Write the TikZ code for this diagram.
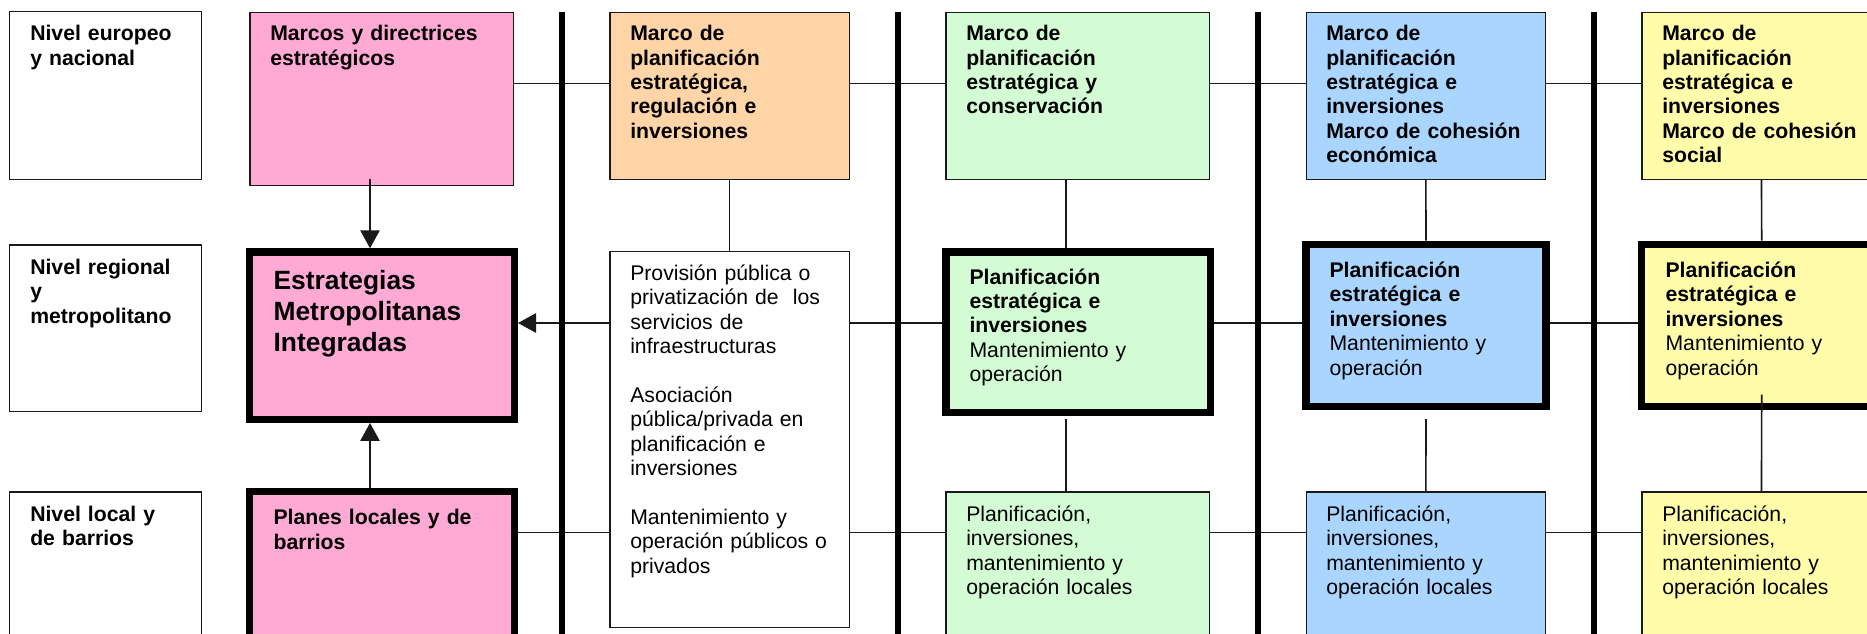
\documentclass[tikz,border=0pt]{standalone}
\usepackage{fontspec}
\setmainfont{Liberation Sans}
\usetikzlibrary{arrows.meta,calc}
\definecolor{pinkf}{RGB}{255,170,212}
\definecolor{orangef}{RGB}{255,213,168}
\definecolor{greenf}{RGB}{212,252,212}
\definecolor{bluef}{RGB}{170,213,255}
\definecolor{yellowf}{RGB}{255,252,170}
\definecolor{edgec}{RGB}{25,25,25}
\begin{document}
\begin{tikzpicture}[x=0.75pt,y=-0.75pt,
  thinbox/.style={draw=edgec, line width=1.1pt, anchor=north west, inner sep=0pt},
  thickbox/.style={draw=black, line width=5.6pt, anchor=north west, inner sep=0pt},
  txt/.style={anchor=base west, inner sep=0pt, align=left, text width=240pt, font=\fontsize{15.9pt}{18.3pt}\selectfont},
  boldtxt/.style={txt, font=\fontsize{15.9pt}{18.3pt}\selectfont\bfseries},
  bigtxt/.style={txt, font=\fontsize{19.8pt}{23.6pt}\selectfont\bfseries},
  conn/.style={draw=edgec, line width=1.2pt},
  arr/.style={conn, -{Triangle[length=13.5pt,width=14.5pt]}},
  sep/.style={draw=black, line width=4.1pt}
]
\useasboundingbox (0,0) rectangle (1867,633);
\clip (0,0) rectangle (1867,633);
\fill[white] (0,0) rectangle (1867,633);

% level labels
\node[thinbox, minimum width=143.65pt, minimum height=125.65pt] (L1) at (9,11) {};
\node[thinbox, minimum width=143.65pt, minimum height=124.9pt] (L2) at (9,244.3) {};
\node[thinbox, minimum width=143.65pt, minimum height=125pt] (L3) at (9,491.3) {};

% pink column
\node[thinbox, fill=pinkf, minimum width=197.4pt, minimum height=129.6pt] (P1) at (249.3,11.7) {};
\node[thickbox, fill=pinkf, minimum width=198.4pt, minimum height=125.4pt] (P2) at (246,248.3) {};
\node[thickbox, fill=pinkf, minimum width=198.4pt, minimum height=123.4pt] (P3) at (246,488) {};

% orange / white column
\node[thinbox, fill=orangef, minimum width=179.4pt, minimum height=125.1pt] (O) at (609.3,11.7) {};
\node[thinbox, fill=white, minimum width=179.4pt, minimum height=281.9pt] (W) at (609.3,250.7) {};

% green column
\node[thinbox, fill=greenf, minimum width=197.4pt, minimum height=125.1pt] (G1) at (945.3,11.7) {};
\node[thickbox, fill=greenf, minimum width=198.2pt, minimum height=120.4pt] (G2) at (942.3,248.3) {};
\node[thinbox, fill=greenf, minimum width=197.4pt, minimum height=125pt] (G3) at (945.3,491.3) {};

% blue column
\node[thinbox, fill=bluef, minimum width=179.1pt, minimum height=125.1pt] (B1) at (1305.7,11.7) {};
\node[thickbox, fill=bluef, minimum width=180pt, minimum height=121.6pt] (B2) at (1302.3,240.7) {};
\node[thinbox, fill=bluef, minimum width=179.1pt, minimum height=125pt] (B3) at (1305.7,491.3) {};

% yellow column
\node[thinbox, fill=yellowf, minimum width=179.1pt, minimum height=125.1pt] (Y1) at (1641.3,11.7) {};
\node[thickbox, fill=yellowf, minimum width=180pt, minimum height=121.6pt] (Y2) at (1638,240.7) {};
\node[thinbox, fill=yellowf, minimum width=179.1pt, minimum height=125pt] (Y3) at (1641.3,491.3) {};

% texts
\node[boldtxt] (tL1) at (30,40.7) {Nivel europeo\\y nacional};
\node[boldtxt] (tL2) at (30,274.4) {Nivel regional\\y\\metropolitano};
\node[boldtxt] (tL3) at (30,521.4) {Nivel local y\\de barrios};

\node[boldtxt] (tP1) at (270,40.7) {Marcos y directrices\\estratégicos};
\node[bigtxt] (tP2) at (273.3,289) {Estrategias\\Metropolitanas\\Integradas};
\node[boldtxt] (tP3) at (273.3,524.7) {Planes locales y de\\barrios};

\node[boldtxt] (tO) at (630,40.7) {Marco de\\planificación\\estratégica,\\regulación e\\inversiones};
\node[txt] (tW) at (630,280.5) {Provisión pública o\\privatización de\ \ los\\servicios de\\infraestructuras\\[18.3pt]Asociación\\pública/privada en\\planificación e\\inversiones\\[18.3pt]Mantenimiento y\\operación públicos o\\privados};

\node[boldtxt] (tG1) at (966,40.7) {Marco de\\planificación\\estratégica y\\conservación};
\node[txt] (tG2) at (969.3,284) {\textbf{Planificación}\\\textbf{estratégica e}\\\textbf{inversiones}\\Mantenimiento y\\operación};
\node[txt] (tG3) at (966,521.4) {Planificación,\\inversiones,\\mantenimiento y\\operación locales};

\node[boldtxt] (tB1) at (1326,40.7) {Marco de\\planificación\\estratégica e\\inversiones\\Marco de cohesión\\económica};
\node[txt] (tB2) at (1329.3,277.4) {\textbf{Planificación}\\\textbf{estratégica e}\\\textbf{inversiones}\\Mantenimiento y\\operación};
\node[txt] (tB3) at (1326,521.4) {Planificación,\\inversiones,\\mantenimiento y\\operación locales};

\node[boldtxt] (tY1) at (1662,40.7) {Marco de\\planificación\\estratégica e\\inversiones\\Marco de cohesión\\social};
\node[txt] (tY2) at (1665.3,277.4) {\textbf{Planificación}\\\textbf{estratégica e}\\\textbf{inversiones}\\Mantenimiento y\\operación};
\node[txt] (tY3) at (1662,521.4) {Planificación,\\inversiones,\\mantenimiento y\\operación locales};

% reference coordinates
\coordinate (r1) at (0,83.3);
\coordinate (r2) at (0,323);
\coordinate (r3) at (0,532.3);
\coordinate (cp) at (370,0);
\coordinate (cg) at (1065.7,0);

% horizontal connectors
\draw[conn] (P1.east |- r1) -- (O.west |- r1);
\draw[conn] (O.east |- r1) -- (G1.west |- r1);
\draw[conn] (G1.east |- r1) -- (B1.west |- r1);
\draw[conn] (B1.east |- r1) -- (Y1.west |- r1);

\draw[arr] (W.west |- r2) -- (P2.east |- r2);
\draw[conn] (W.east |- r2) -- (G2.west |- r2);
\draw[conn] (G2.east |- r2) -- (B2.west |- r2);
\draw[conn] (B2.east |- r2) -- (Y2.west |- r2);

\draw[conn] (P3.east |- r3) -- (W.west |- r3);
\draw[conn] (W.east |- r3) -- (G3.west |- r3);
\draw[conn] (G3.east |- r3) -- (B3.west |- r3);
\draw[conn] (B3.east |- r3) -- (Y3.west |- r3);

% vertical connectors
\draw[arr] ($(P1.south -| cp)+(0,-7)$) -- (P2.north -| cp);
\draw[arr] (P3.north -| cp) -- (P2.south -| cp);
\draw[conn] (O.south) -- (W.north);
\draw[conn] (G1.south -| cg) -- (G2.north -| cg);
\draw[conn] ($(G2.south -| cg)+(0,2.7)$) -- (G3.north -| cg);
\draw[conn] (B1.south) -- (B2.north);
\draw[conn] ($(B2.south)+(0,8.7)$) -- (B3.north);
\draw[conn] (Y1.south) -- (Y2.north);
\draw[conn] ($(Y2.south)+(0,-15.6)$) -- (Y3.north);

% thick separators
\coordinate (s1t) at (562,11.7);   \coordinate (s1b) at (562,645);
\coordinate (s2t) at (898,11.7);   \coordinate (s2b) at (898,645);
\coordinate (s3t) at (1258,11.7);  \coordinate (s3b) at (1258,645);
\coordinate (s4t) at (1594,11.7);  \coordinate (s4b) at (1594,645);
\draw[sep] (s1t) -- (s1b);
\draw[sep] (s2t) -- (s2b);
\draw[sep] (s3t) -- (s3b);
\draw[sep] (s4t) -- (s4b);
\end{tikzpicture}
\end{document}
